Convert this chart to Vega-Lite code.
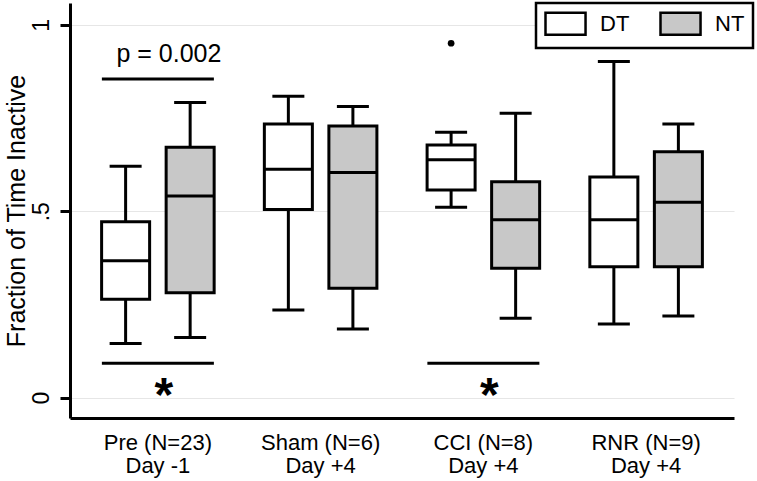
{
  "$schema": "https://vega.github.io/schema/vega-lite/v6.json",
  "width": 664,
  "height": 415,
  "autosize": {"type": "none"},
  "padding": {"left": 70, "top": 3, "right": 23, "bottom": 63},
  "background": "white",
  "config": {
    "view": {"stroke": null},
    "font": "Liberation Sans",
    "legend": {"strokeColor": "black", "strokeWidth": 2.5, "fillColor": "white", "padding": 8}
  },
  "datasets": {
    "boxes": [
      {"group": "Pre (N=23)|Day -1", "type": "DT", "lower": 0.145, "q1": 0.264, "median": 0.367, "q3": 0.472, "upper": 0.621},
      {"group": "Pre (N=23)|Day -1", "type": "NT", "lower": 0.161, "q1": 0.281, "median": 0.541, "q3": 0.672, "upper": 0.792},
      {"group": "Sham (N=6)|Day +4", "type": "DT", "lower": 0.235, "q1": 0.505, "median": 0.613, "q3": 0.734, "upper": 0.809},
      {"group": "Sham (N=6)|Day +4", "type": "NT", "lower": 0.184, "q1": 0.293, "median": 0.604, "q3": 0.729, "upper": 0.781},
      {"group": "CCI (N=8)|Day +4", "type": "DT", "lower": 0.511, "q1": 0.557, "median": 0.638, "q3": 0.678, "upper": 0.712},
      {"group": "CCI (N=8)|Day +4", "type": "NT", "lower": 0.213, "q1": 0.347, "median": 0.477, "q3": 0.579, "upper": 0.763},
      {"group": "RNR (N=9)|Day +4", "type": "DT", "lower": 0.197, "q1": 0.351, "median": 0.477, "q3": 0.592, "upper": 0.902},
      {"group": "RNR (N=9)|Day +4", "type": "NT", "lower": 0.219, "q1": 0.351, "median": 0.524, "q3": 0.66, "upper": 0.734}
    ],
    "outliers": [
      {"group": "CCI (N=8)|Day +4", "type": "DT", "value": 0.951}
    ],
    "brackets": [
      {"group": "Pre (N=23)|Day -1", "value": 0.855},
      {"group": "Pre (N=23)|Day -1", "value": 0.092},
      {"group": "CCI (N=8)|Day +4", "value": 0.092}
    ],
    "pvalue": [
      {"group": "Pre (N=23)|Day -1", "value": 0.9015, "label": "p = 0.002"}
    ],
    "stars": [
      {"group": "Pre (N=23)|Day -1", "value": -0.036, "label": "*"},
      {"group": "CCI (N=8)|Day +4", "value": -0.036, "label": "*"}
    ]
  },
  "encoding": {
    "x": {
      "field": "group",
      "type": "nominal",
      "scale": {
        "domain": ["Pre (N=23)|Day -1", "Sham (N=6)|Day +4", "CCI (N=8)|Day +4", "RNR (N=9)|Day +4"],
        "paddingInner": 0,
        "paddingOuter": 0.04
      },
      "axis": {
        "title": null,
        "ticks": false,
        "labelAngle": 0,
        "labelExpr": "split(datum.label, '|')",
        "labelFontSize": 22,
        "labelLineHeight": 23,
        "labelPadding": 14,
        "labelColor": "black",
        "domainColor": "black",
        "domainWidth": 3,
        "grid": false
      }
    }
  },
  "layer": [
    {
      "data": {"name": "boxes"},
      "mark": {"type": "rule", "color": "black", "strokeWidth": 3},
      "encoding": {
        "xOffset": {"field": "type", "scale": {"domain": ["DT", "NT"], "paddingInner": 0.256, "paddingOuter": 0.389}},
        "y": {
          "field": "lower",
          "type": "quantitative",
          "title": "Fraction of Time Inactive",
          "scale": {"domain": [-0.055, 1.059], "nice": false, "zero": false},
          "axis": {
            "values": [0, 0.5, 1],
            "labelExpr": "replace(format(datum.value, '~g'), '0.', '.')",
            "labelAngle": -90,
            "labelFontSize": 23,
            "labelColor": "black",
            "labelPadding": 7,
            "tickSize": 10,
            "tickWidth": 3,
            "tickColor": "black",
            "domainColor": "black",
            "domainWidth": 3,
            "grid": true,
            "gridColor": "#e6e6e6",
            "gridWidth": 1.2,
            "titleFontSize": 25,
            "titleFontWeight": "normal",
            "titleColor": "black",
            "titlePadding": 1
          }
        },
        "y2": {"field": "upper"}
      }
    },
    {
      "data": {"name": "boxes"},
      "mark": {"type": "bar", "stroke": "black", "strokeWidth": 3},
      "encoding": {
        "xOffset": {"field": "type", "scale": {"domain": ["DT", "NT"], "paddingInner": 0.256, "paddingOuter": 0.389}},
        "y": {"field": "q1", "type": "quantitative", "title": "Fraction of Time Inactive", "scale": {"domain": [-0.055, 1.059], "nice": false, "zero": false}},
        "y2": {"field": "q3"},
        "fill": {
          "field": "type",
          "type": "nominal",
          "scale": {"domain": ["DT", "NT"], "range": ["white", "#c8c8c8"]},
          "legend": {
            "title": null,
            "orient": "none",
            "legendX": 466,
            "legendY": 0,
            "direction": "horizontal",
            "symbolType": "M-1,-1H2.64V1H-1Z",
            "symbolSize": 484,
            "symbolStrokeColor": "black",
            "symbolStrokeWidth": 2.5,
            "symbolOpacity": 1,
            "labelFontSize": 22,
            "labelColor": "black",
            "labelOffset": 31,
            "columnPadding": 25
          }
        }
      }
    },
    {
      "data": {"name": "boxes"},
      "mark": {"type": "tick", "color": "black", "size": 48, "thickness": 3, "opacity": 1},
      "encoding": {
        "xOffset": {"field": "type", "scale": {"domain": ["DT", "NT"], "paddingInner": 0.256, "paddingOuter": 0.389}},
        "y": {"field": "median", "type": "quantitative", "title": "Fraction of Time Inactive", "scale": {"domain": [-0.055, 1.059], "nice": false, "zero": false}}
      }
    },
    {
      "data": {"name": "boxes"},
      "mark": {"type": "tick", "color": "black", "size": 32, "thickness": 3, "opacity": 1},
      "encoding": {
        "xOffset": {"field": "type", "scale": {"domain": ["DT", "NT"], "paddingInner": 0.256, "paddingOuter": 0.389}},
        "y": {"field": "lower", "type": "quantitative", "title": "Fraction of Time Inactive", "scale": {"domain": [-0.055, 1.059], "nice": false, "zero": false}}
      }
    },
    {
      "data": {"name": "boxes"},
      "mark": {"type": "tick", "color": "black", "size": 32, "thickness": 3, "opacity": 1},
      "encoding": {
        "xOffset": {"field": "type", "scale": {"domain": ["DT", "NT"], "paddingInner": 0.256, "paddingOuter": 0.389}},
        "y": {"field": "upper", "type": "quantitative", "title": "Fraction of Time Inactive", "scale": {"domain": [-0.055, 1.059], "nice": false, "zero": false}}
      }
    },
    {
      "data": {"name": "outliers"},
      "mark": {"type": "point", "filled": true, "color": "black", "size": 45, "opacity": 1},
      "encoding": {
        "xOffset": {"field": "type", "scale": {"domain": ["DT", "NT"], "paddingInner": 0.256, "paddingOuter": 0.389}},
        "y": {"field": "value", "type": "quantitative", "title": "Fraction of Time Inactive", "scale": {"domain": [-0.055, 1.059], "nice": false, "zero": false}}
      }
    },
    {
      "data": {"name": "brackets"},
      "mark": {"type": "tick", "color": "black", "size": 112, "thickness": 3, "opacity": 1},
      "encoding": {
        "y": {"field": "value", "type": "quantitative", "title": "Fraction of Time Inactive", "scale": {"domain": [-0.055, 1.059], "nice": false, "zero": false}}
      }
    },
    {
      "data": {"name": "pvalue"},
      "mark": {"type": "text", "fontSize": 25, "color": "black", "align": "center", "baseline": "alphabetic", "dx": 11},
      "encoding": {
        "y": {"field": "value", "type": "quantitative", "title": "Fraction of Time Inactive", "scale": {"domain": [-0.055, 1.059], "nice": false, "zero": false}},
        "text": {"field": "label"}
      }
    },
    {
      "data": {"name": "stars"},
      "mark": {"type": "text", "fontSize": 48, "fontWeight": "bold", "color": "black", "align": "center", "baseline": "alphabetic", "dx": 6},
      "encoding": {
        "y": {"field": "value", "type": "quantitative", "title": "Fraction of Time Inactive", "scale": {"domain": [-0.055, 1.059], "nice": false, "zero": false}},
        "text": {"field": "label"}
      }
    }
  ]
}
